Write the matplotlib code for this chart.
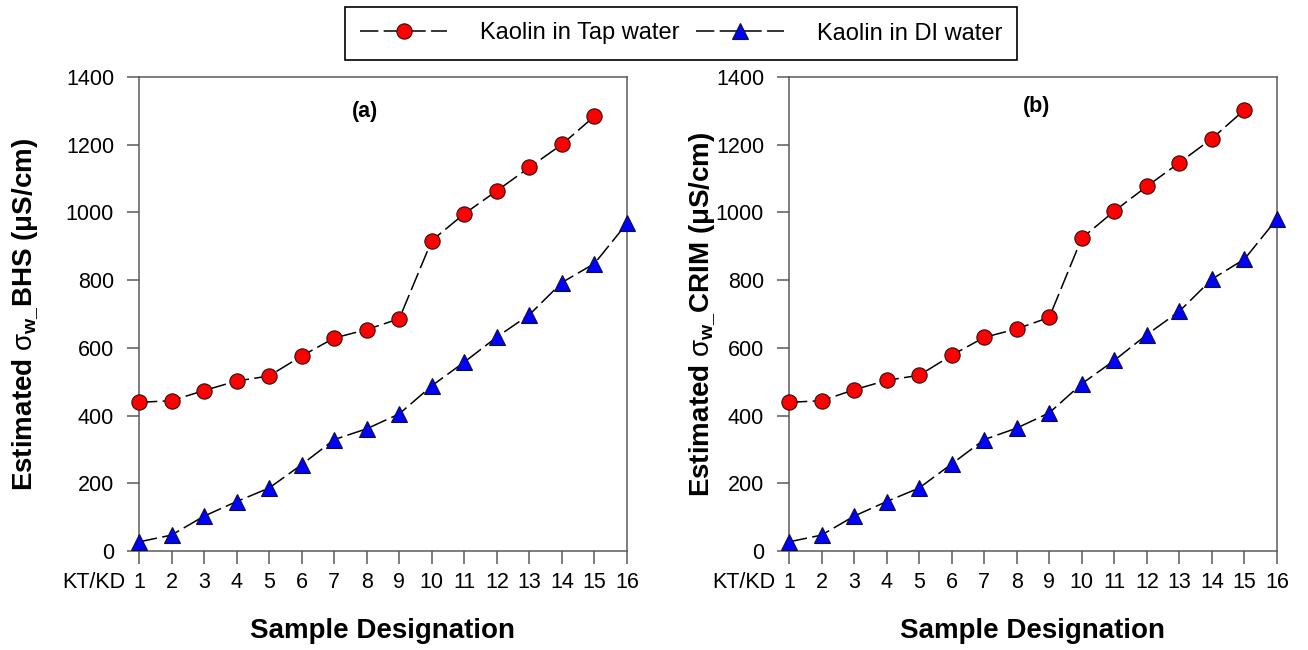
import matplotlib
matplotlib.use("Agg")
import matplotlib.pyplot as plt

plt.rcParams['font.family'] = ['Liberation Sans', 'DejaVu Sans']
plt.rcParams['mathtext.fontset'] = 'custom'
plt.rcParams['mathtext.rm'] = 'Liberation Sans'
plt.rcParams['mathtext.it'] = 'Liberation Sans:italic'
plt.rcParams['mathtext.bf'] = 'Liberation Sans:bold'

# datos
muestras = list(range(1, 17))
tap_bhs = [439, 444, 474, 502, 517, 576, 629, 654, 686, 917, 996, 1064, 1133, 1201, 1284]
di_bhs = [27, 47, 103, 146, 186, 255, 329, 361, 405, 488, 558, 632, 698, 793, 849, 968]
tap_crim = [439, 444, 476, 504, 519, 578, 631, 656, 690, 924, 1004, 1077, 1147, 1218, 1303]
di_crim = [27, 47, 103, 146, 186, 257, 329, 363, 408, 494, 563, 639, 708, 803, 862, 981]

etiquetas_y = [r'Estimated $\mathrm{\sigma}_{\mathbf{w\_}}$BHS (μS/cm)',
               r'Estimated $\mathrm{\sigma}_{\mathbf{w\_}}$CRIM (μS/cm)']
paneles = ['(a)', '(b)']

W, H = 1308, 650
fig = plt.figure(figsize=(W / 100, H / 100), dpi=100)

ax1 = fig.add_axes([139 / W, 1 - 551 / H, 488 / W, 474 / H])
ax2 = fig.add_axes([789 / W, 1 - 551 / H, 488 / W, 474 / H])

gris = '#5a5a5a'
estilo = (0, (12, 3.5))
lineas = None

for ax, tap, di, ylab, panel, lx, px, py in [
        (ax1, tap_bhs, di_bhs, etiquetas_y[0], paneles[0], -0.234, 0.463, 0.928),
        (ax2, tap_crim, di_crim, etiquetas_y[1], paneles[1], -0.178, 0.508, 0.937)]:
    l1, = ax.plot(muestras[:len(tap)], tap, color='black', lw=1.1, linestyle=estilo,
                  marker='o', markersize=11, markerfacecolor='red',
                  markeredgecolor='#301010', markeredgewidth=0.8,
                  label='Kaolin in Tap water', clip_on=False, zorder=3)
    l2, = ax.plot(muestras[:len(di)], di, color='black', lw=1.1, linestyle=estilo,
                  marker='^', markersize=11.5, markerfacecolor='blue',
                  markeredgecolor='#101030', markeredgewidth=0.8,
                  label='Kaolin in DI water', clip_on=False, zorder=3)
    lineas = (l1, l2)

    ax.set_xlim(1, 16)
    ax.set_ylim(0, 1400)
    ax.set_xticks(muestras)
    ax.set_yticks(range(0, 1401, 200))
    ax.tick_params(axis='both', direction='out', length=9, width=1.1, color=gris,
                   labelsize=15.5, pad=9)
    ax.tick_params(axis='x', pad=6)
    for s in ax.spines.values():
        s.set_color(gris)
        s.set_linewidth(1.1)

    ax.set_ylabel(ylab, fontsize=20, fontweight='bold')
    ax.yaxis.set_label_coords(lx, 0.5)
    ax.yaxis.label.set_va('center')
    ax.set_xlabel('Sample Designation', fontsize=20, fontweight='bold')
    ax.xaxis.set_label_coords(0.5, -0.169)
    ax.xaxis.label.set_va('center')

    ax.annotate('KT/KD', xy=(0, 0), xycoords='axes fraction', xytext=(-10, -22.5),
                textcoords='offset points', ha='right', va='center', fontsize=15.5)
    ax.text(px, py, panel, transform=ax.transAxes, ha='center', va='center',
            fontsize=15.5, fontweight='bold')

fig.legend(lineas, [l.get_label() for l in lineas], loc='center',
           bbox_to_anchor=(681 / W, 1 - 33.5 / H), ncol=2, fontsize=17,
           frameon=True, fancybox=False, edgecolor='black', framealpha=1,
           handlelength=3.7, handletextpad=1.4, columnspacing=0.7,
           borderpad=0.65, borderaxespad=0)
fig.legends[0].get_frame().set_linewidth(1.2)

fig.savefig('out.png', dpi=100)
